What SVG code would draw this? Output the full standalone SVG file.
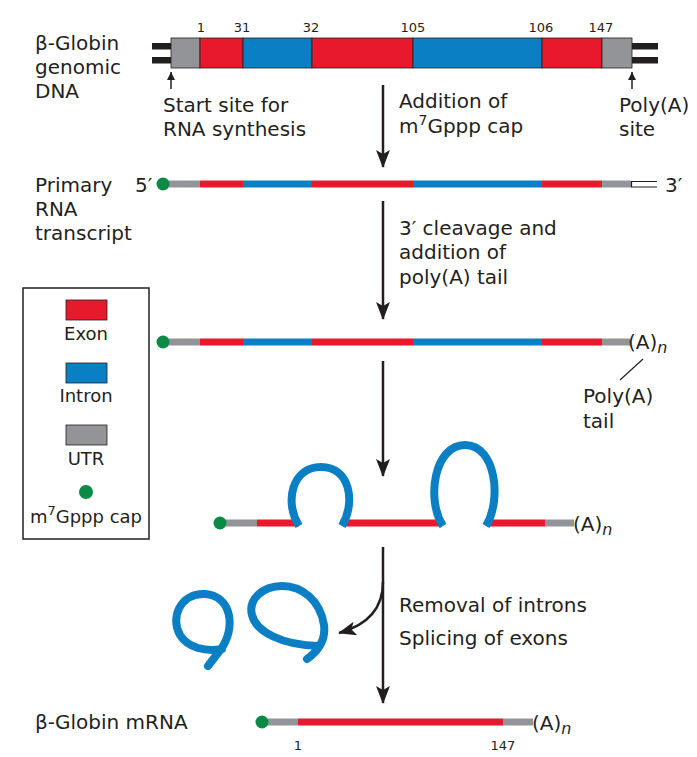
<svg xmlns="http://www.w3.org/2000/svg" width="697" height="757" viewBox="0 0 697 757">
<style>
text{font-family:"DejaVu Sans","Liberation Sans",sans-serif;fill:#231f20;font-size:20px}
.num{font-size:13px;text-anchor:middle}
.leg{font-size:18px;text-anchor:middle}
.red{fill:#e8192c}
.blue{fill:#0b7fc3}
.gray{fill:#929497}
.seg{stroke:#231f20;stroke-width:0.8}
.conn{stroke:#231f20;stroke-width:2.5;fill:none}
.thin{stroke:#231f20;stroke-width:1.5;fill:none}
.rr{stroke:#e8192c;stroke-width:7}
.rb{stroke:#0b7fc3;stroke-width:7}
.rg{stroke:#929497;stroke-width:7}
.loop{stroke:#0b7fc3;stroke-width:8;fill:none}
.cap{fill:#0a8a45}
</style>
<defs>
<marker id="ah" markerUnits="userSpaceOnUse" markerWidth="18" markerHeight="14" refX="17" refY="7" orient="auto" viewBox="0 0 18 14">
<path d="M0,0 L18,7 L0,14 L4,7 z" fill="#231f20"/>
</marker>
<marker id="sa" markerUnits="userSpaceOnUse" markerWidth="8" markerHeight="8" refX="8" refY="4" orient="auto" viewBox="0 0 8 8">
<path d="M0,0 L8,4 L0,8 z" fill="#231f20"/>
</marker>
</defs>

<g id="genomic-dna">
<text x="35" y="50">β-Globin</text>
<text x="35" y="74">genomic</text>
<text x="35" y="98">DNA</text>
<rect x="152" y="43" width="20" height="6.5" fill="#231f20"/>
<rect x="152" y="57" width="20" height="6.5" fill="#231f20"/>
<rect x="631" y="43" width="27" height="6.5" fill="#231f20"/>
<rect x="631" y="57" width="27" height="6.5" fill="#231f20"/>
<rect class="gray seg" x="171" y="38" width="29" height="30"/>
<rect class="red seg" x="200" y="38" width="43" height="30"/>
<rect class="blue seg" x="243" y="38" width="69" height="30"/>
<rect class="red seg" x="312" y="38" width="101" height="30"/>
<rect class="blue seg" x="413" y="38" width="129" height="30"/>
<rect class="red seg" x="542" y="38" width="60" height="30"/>
<rect class="gray seg" x="602" y="38" width="30" height="30"/>
<text class="num" x="201" y="32">1</text>
<text class="num" x="242" y="32">31</text>
<text class="num" x="311" y="32">32</text>
<text class="num" x="413" y="32">105</text>
<text class="num" x="541" y="32">106</text>
<text class="num" x="601" y="32">147</text>
</g>

<g id="start-site">
<line class="thin" x1="171" y1="89" x2="171" y2="72" marker-end="url(#sa)"/>
<text x="163" y="112">Start site for</text>
<text x="163" y="136">RNA synthesis</text>
</g>

<g id="polya-site">
<line class="thin" x1="632" y1="89" x2="632" y2="72" marker-end="url(#sa)"/>
<text x="619" y="112">Poly(A)</text>
<text x="619" y="136">site</text>
</g>

<g id="primary-transcript">
<text x="35" y="192">Primary</text>
<text x="35" y="216">RNA</text>
<text x="35" y="240">transcript</text>
<text x="135" y="192">5′</text>
<line class="rg" x1="165" y1="184" x2="200" y2="184"/>
<line class="rr" x1="200" y1="184" x2="243" y2="184"/>
<line class="rb" x1="243" y1="184" x2="312" y2="184"/>
<line class="rr" x1="312" y1="184" x2="413" y2="184"/>
<line class="rb" x1="413" y1="184" x2="542" y2="184"/>
<line class="rr" x1="542" y1="184" x2="602" y2="184"/>
<line class="rg" x1="602" y1="184" x2="631" y2="184"/>
<path d="M657,181.5 L631.5,181.5 L631.5,187 L657,187" fill="#fff" stroke="#231f20" stroke-width="1.2"/>
<circle class="cap" cx="163" cy="184" r="6.5"/>
<text x="665" y="192">3′</text>
</g>

<g id="polyadenylated">
<line class="rg" x1="165" y1="342" x2="200" y2="342"/>
<line class="rr" x1="200" y1="342" x2="243" y2="342"/>
<line class="rb" x1="243" y1="342" x2="312" y2="342"/>
<line class="rr" x1="312" y1="342" x2="413" y2="342"/>
<line class="rb" x1="413" y1="342" x2="542" y2="342"/>
<line class="rr" x1="542" y1="342" x2="602" y2="342"/>
<line class="rg" x1="602" y1="342" x2="630" y2="342"/>
<circle class="cap" cx="163" cy="342" r="6.5"/>
<text x="628" y="349">(A)<tspan font-style="italic" font-size="16" dy="4">n</tspan></text>
<line stroke="#231f20" stroke-width="1.2" x1="643" y1="359" x2="620" y2="380"/>
<text x="583" y="403">Poly(A)</text>
<text x="583" y="428">tail</text>
</g>

<g id="legend">
<rect x="23" y="288" width="126" height="251" fill="none" stroke="#231f20" stroke-width="1.5"/>
<rect class="red seg" x="66" y="300" width="41" height="20"/>
<text class="leg" x="86" y="340">Exon</text>
<rect class="blue seg" x="66" y="363" width="41" height="20"/>
<text class="leg" x="86" y="402">Intron</text>
<rect class="gray seg" x="66" y="425" width="41" height="20"/>
<text class="leg" x="86" y="465">UTR</text>
<circle class="cap" cx="86" cy="492" r="7"/>
<text class="leg" x="86" y="523">m<tspan font-size="13" dy="-8">7</tspan><tspan dy="8">Gppp cap</tspan></text>
</g>

<g id="spliceosome-intermediate">
<line class="rg" x1="222" y1="523" x2="257" y2="523"/>
<line class="rr" x1="257" y1="523" x2="299" y2="523"/>
<line class="rr" x1="343" y1="523" x2="442" y2="523"/>
<line class="rr" x1="487" y1="523" x2="545" y2="523"/>
<line class="rg" x1="545" y1="523" x2="574" y2="523"/>
<path class="loop" d="M299,526 C284,502 292,467 321,467 C350,467 356,502 342,526"/>
<path class="loop" d="M443,526 C426,500 434,445 465,445 C496,445 502,500 486,526"/>
<circle class="cap" cx="220" cy="523" r="6.5"/>
<text x="573" y="531">(A)<tspan font-style="italic" font-size="16" dy="4">n</tspan></text>
</g>

<g id="excised-introns">
<path class="loop" stroke-linecap="round" d="M208,666 L221,649 C236,628 232,596 205,594 C180,593 170,618 180,635 C188,648 206,652 222,649"/>
<path class="loop" stroke-linecap="round" d="M307,659 C318,651 326,640 324,625 C320,600 302,586 282,586 C262,586 248,600 252,615 C256,632 282,645 319,646"/>
</g>

<g id="mrna">
<text x="35" y="729">β-Globin mRNA</text>
<line class="rg" x1="264" y1="722" x2="298" y2="722"/>
<line class="rr" x1="298" y1="722" x2="503" y2="722"/>
<line class="rg" x1="503" y1="722" x2="533" y2="722"/>
<circle class="cap" cx="262" cy="722" r="6.5"/>
<text x="532" y="730">(A)<tspan font-style="italic" font-size="16" dy="4">n</tspan></text>
<text class="num" x="298" y="750">1</text>
<text class="num" x="503" y="750">147</text>
</g>

<g id="connectors">
<line class="conn" x1="383" y1="85" x2="383" y2="167" marker-end="url(#ah)"/>
<line class="conn" x1="383" y1="201" x2="383" y2="319" marker-end="url(#ah)"/>
<line class="conn" x1="383" y1="361" x2="383" y2="476" marker-end="url(#ah)"/>
<line class="conn" x1="383" y1="547" x2="383" y2="703" marker-end="url(#ah)"/>
<path class="conn" d="M383,582 C383,608 368,625 339,633" marker-end="url(#ah)"/>
</g>

<g id="step-labels">
<text x="399" y="108">Addition of</text>
<text x="399" y="133">m<tspan font-size="14" dy="-8">7</tspan><tspan dy="8">Gppp cap</tspan></text>
<text x="399" y="235">3′ cleavage and</text>
<text x="399" y="259">addition of</text>
<text x="399" y="284">poly(A) tail</text>
<text x="399" y="612">Removal of introns</text>
<text x="399" y="645">Splicing of exons</text>
</g>
</svg>
